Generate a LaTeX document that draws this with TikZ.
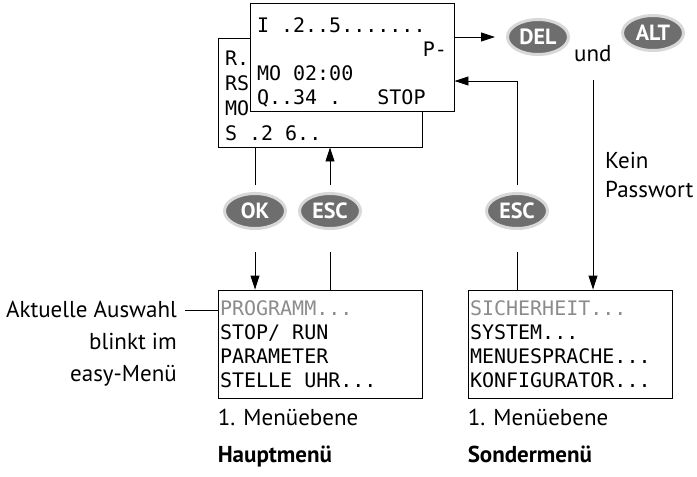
\documentclass[tikz,border=0pt]{standalone}
\usepackage{fontspec}
\setmainfont{PT Sans}
\newfontfamily\lcdfont{DejaVu Sans Mono}
\usepackage{xcolor}
\usepackage{tikz}
\usetikzlibrary{shapes.geometric, arrows.meta, positioning, calc}
\definecolor{tastegrau}{RGB}{110,110,110}
\definecolor{randgrau}{RGB}{216,216,216}
\definecolor{blinkgrau}{RGB}{140,140,140}
% ein Zeichen breites Leerzeichen in der Anzeige
\newcommand{\lcdsp}{\hphantom{0}}

\begin{document}
\begin{tikzpicture}[x=1pt, y=-1pt]
	\tikzstyle{lcdbox}=[draw=black, line width=0.9pt, minimum width=204pt, minimum height=108pt, inner xsep=2pt, inner ysep=0pt, text width=200pt, align=left, fill=white, font=\lcdfont\fontsize{20}{24}\selectfont]
	
	\tikzstyle{taste}=[ellipse, draw=randgrau, line width=3pt, fill=tastegrau, minimum width=61pt, minimum height=35pt, inner sep=0pt, text=white, font=\bfseries\fontsize{22}{22}\selectfont]
	
	\tikzstyle{pfeil}=[line width=0.9pt, -{Triangle[length=14pt, width=9pt]}]
	\tikzstyle{linie}=[line width=0.9pt]
	\tikzstyle{beschrift}=[inner sep=0pt, font=\fontsize{23}{32}\selectfont]
	
	\useasboundingbox (0,0) rectangle (697,477);
	
	%% Statusanzeige (hinten und vorne)
	\node [lcdbox, inner xsep=7pt, text width=190pt, minimum height=109pt, font=\lcdfont\fontsize{20}{25}\selectfont] (lcdback) at (320,92.5) {\rule{0pt}{21pt}R.\\RS\\MO\\S\lcdsp.2\lcdsp6..};
	\node [lcdbox, inner xsep=7pt, text width=190pt] (lcdfront) at (352,57) {\rule{0pt}{25pt}I\lcdsp.2..5.......\\\mbox{}\hfill P-\\MO\lcdsp02:00\\Q..34\lcdsp.\lcdsp\lcdsp\lcdsp STOP};
	
	%% Menues
	\node [lcdbox] (haupt) at (320,344) {\textcolor{blinkgrau}{PROGRAMM...}\\STOP/\lcdsp RUN\\PARAMETER\\STELLE\lcdsp UHR...};
	\node [lcdbox] (sonder) at (570,344) {\textcolor{blinkgrau}{SICHERHEIT...}\\SYSTEM...\\MENUESPRACHE...\\KONFIGURATOR...};
	
	%% Tasten
	\node [taste] (ok) at (255,211) {OK};
	\node [taste] (esca) at (330,211) {ESC};
	\node [taste] (escb) at (517,211) {ESC};
	\node [taste] (del) at (538,37) {DEL};
	\node [taste] (alt) at (653,33) {ALT};
	\node [beschrift, anchor=base west] (und) at (574,61) {und};
	
	\draw [linie] (ok.north |- lcdback.south) -- ([yshift=7pt]ok.north);
	\draw [pfeil] ([yshift=-22pt]ok.south) -- (ok.south |- haupt.north);
	\draw [pfeil] ([yshift=7pt]esca.north) -- (esca.north |- lcdback.south);
	\draw [linie] (esca.south |- haupt.north) -- ([yshift=-22pt]esca.south);
	
	\draw [pfeil] (lcdfront.east |- del.west) -- ([xshift=-11pt]del.west);
	\draw [pfeil] ([yshift=7pt]escb.north) |- ([yshift=-24pt]lcdfront.east);
	\draw [linie] (escb.south |- sonder.north) -- ([yshift=-22pt]escb.south);
	
	\coordinate (passwort) at (593,80);
	\draw [pfeil] (passwort) -- (passwort |- sonder.north);
	\node [beschrift, anchor=north west, align=left, font=\fontsize{23}{29}\selectfont] (kein) at (605,152) {Kein\\Passwort};
	
	%% Beschriftungen
	\node [beschrift, anchor=north east, align=right] (auswahl) at (177,301) {Aktuelle Auswahl\\blinkt im\\easy-Menü};
	\coordinate (blink) at ([yshift=34pt]haupt.west);
	\draw [linie] (blink) -- ([xshift=8pt]auswahl.east |- blink);
	
	\node [beschrift, anchor=north west, align=left] (hauptlabel) at ([yshift=-10pt]haupt.south west) {1. Menüebene\\[5pt]\textbf{Hauptmenü}};
	\node [beschrift, anchor=north west, align=left] (sonderlabel) at ([yshift=-10pt]sonder.south west) {1. Menüebene\\[5pt]\textbf{Sondermenü}};
\end{tikzpicture}
\end{document}
